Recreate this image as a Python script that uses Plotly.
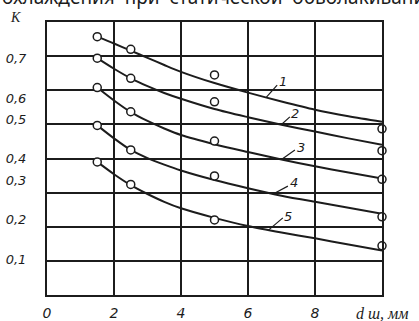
import plotly.graph_objects as go

# ---- data (y in grid units: each horizontal grid step = 1) ----
curve_x = [1.5, 2, 2.5, 3, 3.5, 4, 5, 6, 7, 8, 9, 10]
curve1 = [7.57, 7.37, 7.16, 6.95, 6.74, 6.54, 6.21, 5.93, 5.67, 5.43, 5.24, 5.08]
curve2 = [6.94, 6.63, 6.35, 6.12, 5.92, 5.75, 5.45, 5.21, 4.99, 4.79, 4.59, 4.40]
curve3 = [6.08, 5.70, 5.36, 5.10, 4.88, 4.69, 4.42, 4.19, 3.97, 3.77, 3.59, 3.41]
curve4 = [4.97, 4.59, 4.25, 4.01, 3.82, 3.65, 3.37, 3.13, 2.91, 2.73, 2.56, 2.38]
curve5 = [3.90, 3.54, 3.22, 2.96, 2.73, 2.54, 2.26, 2.02, 1.83, 1.66, 1.48, 1.30]

point_x = [1.5, 2.5, 5.0, 10.0]
points1 = [7.57, 7.20, 6.45, 4.87]
points2 = [6.94, 6.35, 5.66, 4.23]
points3 = [6.08, 5.37, 4.51, 3.39]
points4 = [4.97, 4.25, 3.49, 2.29]
points5 = [3.90, 3.24, 2.20, 1.44]

curve_labels = ["1", "2", "3", "4", "5"]
leader_start_x = [6.55, 6.99, 7.00, 6.75, 6.61]
leader_start_y = [5.80, 4.99, 3.97, 2.96, 1.90]
leader_end_x = [6.87, 7.25, 7.40, 7.19, 7.04]
leader_end_y = [6.15, 5.22, 4.25, 3.19, 2.26]
label_x = [7.04, 7.40, 7.58, 7.37, 7.18]
label_y = [6.26, 5.32, 4.33, 3.30, 2.30]

y_tick_pos = [1.03, 2.20, 3.37, 4.01, 5.15, 5.77, 6.94]
y_tick_text = ["0,1", "0,2", "0,3", "0,4", "0,5", "0,6", "0,7"]
x_tick_vals = [0, 2, 4, 6, 8]
x_tick_text = ["0", "2", "4", "6", "8"]

INK = "#1c1c1c"

fig = go.Figure()

curves = [curve1, curve2, curve3, curve4, curve5]
points = [points1, points2, points3, points4, points5]

for c in curves:
    fig.add_trace(go.Scatter(x=curve_x, y=c, mode="lines",
                             line=dict(color=INK, width=2, shape="spline", smoothing=0.8),
                             showlegend=False, hoverinfo="skip"))

for i in range(5):
    fig.add_trace(go.Scatter(x=[leader_start_x[i], leader_end_x[i]],
                             y=[leader_start_y[i], leader_end_y[i]], mode="lines",
                             line=dict(color=INK, width=1.2), showlegend=False, hoverinfo="skip"))

for p in points:
    fig.add_trace(go.Scatter(x=point_x, y=p, mode="markers",
                             marker=dict(symbol="circle", size=8, color="white",
                                         line=dict(color=INK, width=1.5)),
                             cliponaxis=False, showlegend=False))

for i, t in enumerate(curve_labels):
    fig.add_annotation(x=label_x[i], y=label_y[i], text=t, showarrow=False,
                       xanchor="center", yanchor="middle",
                       font=dict(family="DejaVu Sans", size=13, color=INK, style="italic"))

fig.add_annotation(xref="x", yref="paper", x=10, y=-0.066, text="d ш, мм", showarrow=False,
                   xanchor="center", yanchor="middle",
                   font=dict(family="Liberation Serif", size=16, color=INK, style="italic"))
fig.add_annotation(xref="paper", yref="paper", x=-0.0955, y=1.015, text="K", showarrow=False,
                   xanchor="center", yanchor="middle",
                   font=dict(family="Liberation Serif", size=14, color=INK, style="italic"))
fig.add_annotation(xref="paper", yref="paper", x=-0.14, y=1.092,
                   text="охлаждения  при  статической  обволакивани", showarrow=False,
                   xanchor="left", yanchor="middle",
                   font=dict(family="Noto Sans", size=19, color=INK))

fig.update_xaxes(range=[0, 10], tickmode="array", tickvals=x_tick_vals, ticktext=x_tick_text,
                 showgrid=True, gridcolor=INK, gridwidth=1.5, zeroline=False, automargin=False,
                 showline=True, linecolor=INK, linewidth=2, mirror=True, ticks="",
                 ticklabelstandoff=4,
                 tickfont=dict(family="DejaVu Sans", size=14, color=INK, style="italic"))
fig.update_yaxes(range=[0, 8], tickmode="array", tickvals=y_tick_pos, ticktext=y_tick_text,
                 showgrid=False, zeroline=False, automargin=False,
                 minor=dict(tick0=0, dtick=1, showgrid=True, gridcolor=INK, gridwidth=1.5, ticks=""),
                 showline=True, linecolor=INK, linewidth=2, mirror=True, ticks="",
                 ticklabelstandoff=16,
                 tickfont=dict(family="DejaVu Sans", size=13, color=INK, style="italic"))

fig.update_layout(width=419, height=321, margin=dict(l=47, r=37, t=22, b=26),
                  paper_bgcolor="white", plot_bgcolor="white", showlegend=False)

fig.write_html("out.html")
